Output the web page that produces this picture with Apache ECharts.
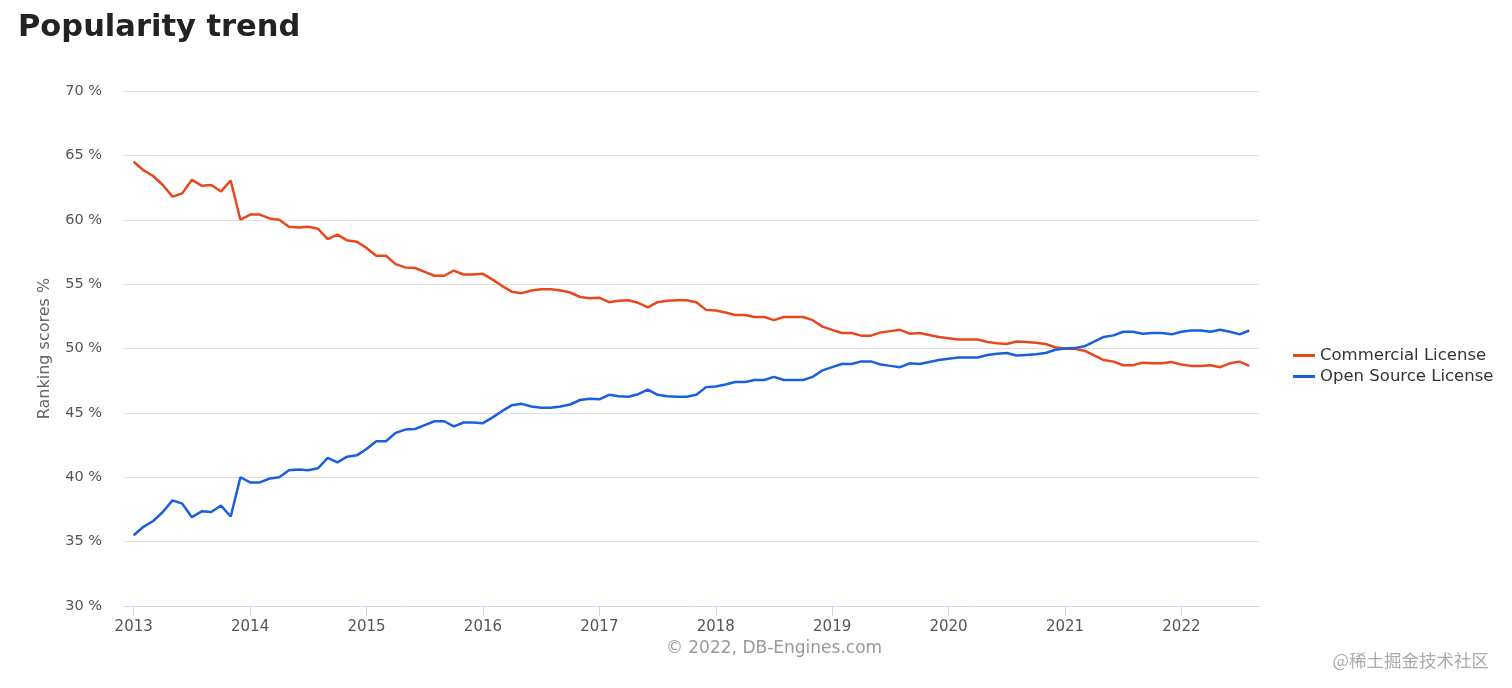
<!DOCTYPE html>
<html>
<head>
<meta charset="utf-8">
<script src="https://cdn.jsdelivr.net/npm/echarts@6/dist/echarts.min.js"></script>
<style>
html,body{margin:0;padding:0;background:#fff;}
#c{width:1512px;height:688px;}
</style>
</head>
<body>
<div id="c"></div>
<script>
// Months since Jan 2013 (0 = Jan 2013 ... 115 = Aug 2022)
const yearTicks = [0, 12, 24, 36, 48, 60, 72, 84, 96, 108];
const yearLabels = ['2013','2014','2015','2016','2017','2018','2019','2020','2021','2022'];
const seriesNames = ['Commercial License', 'Open Source License'];
const commercial = [
 64.5, 63.85, 63.4, 62.7, 61.8, 62.05, 63.1, 62.65, 62.7, 62.2, 63.05, 60.0,
 60.4, 60.4, 60.1, 60.0, 59.45, 59.4, 59.45, 59.3, 58.5, 58.85, 58.4, 58.3,
 57.8, 57.2, 57.2, 56.55, 56.3, 56.25, 55.95, 55.65, 55.65, 56.05, 55.75, 55.75,
 55.8, 55.35, 54.85, 54.4, 54.3, 54.5, 54.6, 54.6, 54.5, 54.35, 54.0, 53.9,
 53.95, 53.6, 53.7, 53.75, 53.55, 53.2, 53.6, 53.7, 53.75, 53.75, 53.6, 53.0,
 52.95, 52.8, 52.6, 52.6, 52.45, 52.45, 52.2, 52.45, 52.45, 52.45, 52.2, 51.7,
 51.45, 51.2, 51.2, 51.0, 51.0, 51.25, 51.35, 51.45, 51.15, 51.2, 51.05, 50.9,
 50.8, 50.7, 50.7, 50.7, 50.5, 50.4, 50.35, 50.55, 50.5, 50.45, 50.35, 50.1,
 50.0, 49.97, 49.83, 49.47, 49.1, 48.98, 48.7, 48.7, 48.9, 48.85, 48.85, 48.95,
 48.75, 48.65, 48.65, 48.7, 48.55, 48.85, 48.98, 48.65
];
const openSource = [
 35.5, 36.15, 36.6, 37.3, 38.2, 37.95, 36.9, 37.35, 37.3, 37.8, 36.95, 40.0,
 39.6, 39.6, 39.9, 40.0, 40.55, 40.6, 40.55, 40.7, 41.5, 41.15, 41.6, 41.7,
 42.2, 42.8, 42.8, 43.45, 43.7, 43.75, 44.05, 44.35, 44.35, 43.95, 44.25, 44.25,
 44.2, 44.65, 45.15, 45.6, 45.7, 45.5, 45.4, 45.4, 45.5, 45.65, 46.0, 46.1,
 46.05, 46.4, 46.3, 46.25, 46.45, 46.8, 46.4, 46.3, 46.25, 46.25, 46.4, 47.0,
 47.05, 47.2, 47.4, 47.4, 47.55, 47.55, 47.8, 47.55, 47.55, 47.55, 47.8, 48.3,
 48.55, 48.8, 48.8, 49.0, 49.0, 48.75, 48.65, 48.55, 48.85, 48.8, 48.95, 49.1,
 49.2, 49.3, 49.3, 49.3, 49.5, 49.6, 49.65, 49.45, 49.5, 49.55, 49.65, 49.9,
 50.0, 50.03, 50.17, 50.53, 50.9, 51.02, 51.3, 51.3, 51.15, 51.2, 51.2, 51.1,
 51.3, 51.4, 51.4, 51.3, 51.45, 51.3, 51.1, 51.4
];

const toPoints = arr => arr.map((v, i) => [i, v]);
const chart = echarts.init(document.getElementById('c'), null, {renderer: 'canvas'});
const font = '"DejaVu Sans", Verdana, sans-serif';
chart.setOption({
  animation: false,
  title: [
    {text: 'Popularity trend', left: 13, top: 8,
     textStyle: {fontFamily: font, fontWeight: 'bold', fontSize: 30.5, color: '#222'}},
    {text: '© 2022, DB-Engines.com', left: 769, top: 635, textAlign: 'center',
     textStyle: {fontFamily: font, fontWeight: 'normal', fontSize: 17, color: '#999'}},
    {text: '@稀土掘金技术社区', right: 18, top: 647,
     textStyle: {fontFamily: '"Noto Sans CJK SC", sans-serif', fontWeight: 'normal', fontSize: 17.5, color: '#aaa'}}
  ],
  grid: {left: 124, right: 253, top: 91, bottom: 82, containLabel: false},
  legend: {
    orient: 'vertical', left: 1288, top: 342, itemGap: 4,
    icon: 'rect', itemWidth: 22, itemHeight: 3,
    textStyle: {fontFamily: font, fontSize: 16.5, color: '#333'},
    data: seriesNames
  },
  xAxis: {
    type: 'value', min: -1, max: 116,
    axisLine: {show: true, lineStyle: {color: '#ccd6eb', width: 1}},
    axisTick: {show: true, length: 10, lineStyle: {color: '#ccd6eb'}, customValues: yearTicks},
    axisLabel: {
      customValues: yearTicks, margin: 14,
      fontFamily: font, fontSize: 15, color: '#555',
      formatter: v => yearLabels[yearTicks.indexOf(v)]
    },
    splitLine: {show: false}
  },
  yAxis: {
    type: 'value', min: 30, max: 70, interval: 5,
    name: 'Ranking scores %', nameLocation: 'middle', nameGap: 71,
    nameTextStyle: {fontFamily: font, fontSize: 16, color: '#666'},
    axisLine: {show: false}, axisTick: {show: false},
    axisLabel: {margin: 22, fontFamily: font, fontSize: 14.5, color: '#555', formatter: '{value} %'},
    splitLine: {lineStyle: {color: '#e0e0e0', width: 1}}
  },
  series: [
    {name: seriesNames[0], type: 'line', data: toPoints(commercial), showSymbol: false,
     lineStyle: {width: 2.5, color: '#e8481c'}, itemStyle: {color: '#e8481c'}},
    {name: seriesNames[1], type: 'line', data: toPoints(openSource), showSymbol: false,
     lineStyle: {width: 2.5, color: '#1a5fdc'}, itemStyle: {color: '#1a5fdc'}}
  ]
});
</script>
</body>
</html>
